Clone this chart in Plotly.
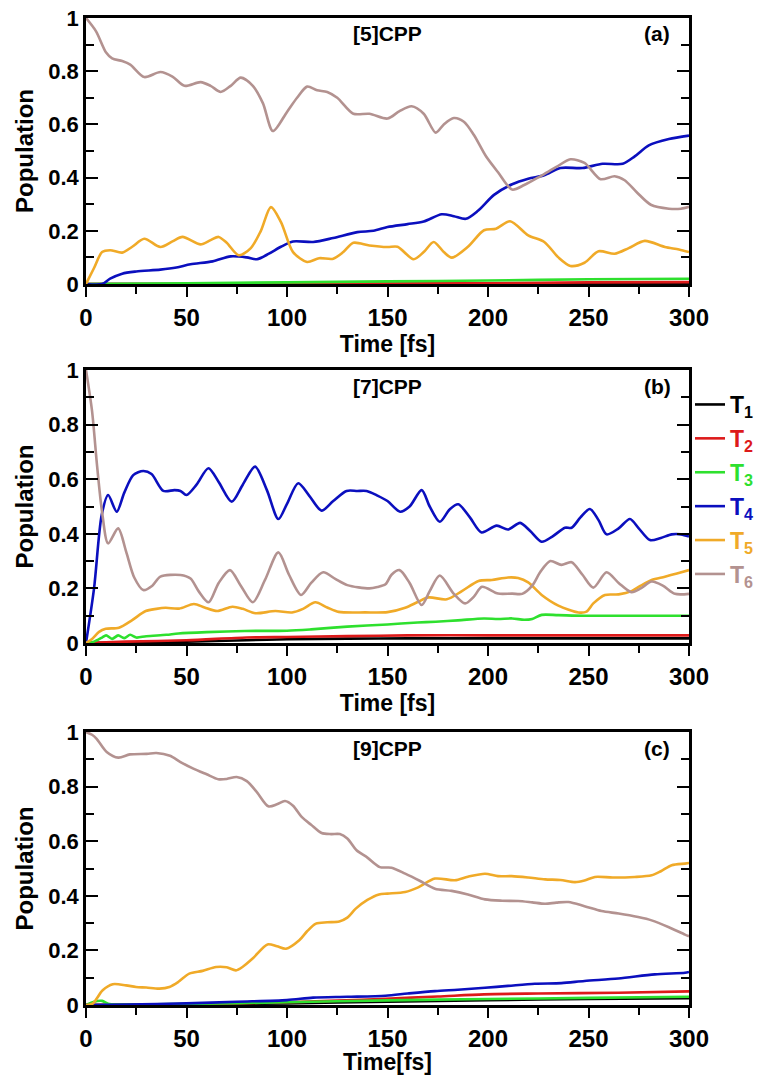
import plotly.graph_objects as go

# ---------------- data ----------------
# Panel (a) [5]CPP
t6a = [0, 5, 10, 13, 18, 22, 29, 37, 43, 49, 57, 62, 67, 72, 77, 83, 88, 93, 100, 105, 110, 115, 120, 125,
       133, 141, 150, 156, 162, 168, 174, 178, 183, 188, 193, 199, 205, 212, 218, 226, 234, 241, 248, 256,
       263, 268, 274, 281, 290, 296, 300]
T6a = [1.0, 0.95, 0.87, 0.848, 0.838, 0.825, 0.778, 0.797, 0.78, 0.745, 0.759, 0.745, 0.722, 0.745, 0.776,
       0.745, 0.68, 0.575, 0.647, 0.70, 0.742, 0.728, 0.722, 0.70, 0.64, 0.64, 0.622, 0.65, 0.668, 0.64, 0.569,
       0.60, 0.624, 0.61, 0.56, 0.48, 0.42, 0.355, 0.372, 0.405, 0.44, 0.469, 0.455, 0.394, 0.405, 0.39, 0.345,
       0.298, 0.283, 0.283, 0.29]
t5a = [0, 4, 8, 12, 18, 23, 29, 37, 43, 48, 57, 62, 66, 70, 76, 82, 87, 92, 97, 103, 110, 116, 123, 128,
       133, 141, 150, 155, 163, 168, 173, 178, 182, 190, 198, 204, 211, 220, 228, 235, 241, 248, 255, 263,
       270, 278, 288, 295, 300]
T5a = [0, 0.06, 0.12, 0.127, 0.118, 0.14, 0.17, 0.139, 0.16, 0.177, 0.149, 0.165, 0.177, 0.155, 0.108,
       0.135, 0.2, 0.289, 0.233, 0.12, 0.083, 0.097, 0.095, 0.12, 0.155, 0.145, 0.139, 0.14, 0.093, 0.12,
       0.158, 0.12, 0.099, 0.14, 0.202, 0.208, 0.236, 0.183, 0.158, 0.10, 0.068, 0.08, 0.123, 0.114, 0.135,
       0.162, 0.139, 0.13, 0.12]
t4a = [0, 8, 12, 18, 25, 37, 45, 52, 63, 72, 80, 85, 91, 97, 103, 113, 123, 135, 143, 150, 160, 168, 177,
       183, 189, 195, 203, 212, 220, 228, 236, 247, 257, 267, 273, 280, 290, 300]
T4a = [0, 0.0, 0.02, 0.039, 0.047, 0.054, 0.062, 0.074, 0.085, 0.104, 0.10, 0.093, 0.114, 0.14, 0.16,
       0.158, 0.173, 0.195, 0.2, 0.214, 0.225, 0.235, 0.262, 0.255, 0.245, 0.275, 0.335, 0.375, 0.396,
       0.409, 0.436, 0.436, 0.452, 0.452, 0.48, 0.521, 0.545, 0.558]
tsa = [0, 50, 100, 150, 200, 250, 300]
T3a = [0, 0.003, 0.006, 0.01, 0.013, 0.018, 0.02]
T2a = [0, 0, 0.001, 0.002, 0.003, 0.006, 0.007]
T1a = [0, 0, 0, 0.001, 0.001, 0.002, 0.002]

# Panel (b) [7]CPP
t6b = [0, 3, 5.5, 8, 11, 16, 20, 24, 28.5, 33, 37, 47, 52, 56, 61, 66, 71.6, 77, 83, 89, 95.7, 101, 107,
       112, 118, 124, 130, 141, 145, 149, 152, 156, 161, 167, 171, 176, 183, 188.6, 193, 197, 205, 212,
       217, 222, 226, 231, 236.5, 241.6, 247, 252.4, 259, 265, 271.4, 276, 281.4, 287, 293, 300]
T6b = [1.0, 0.85, 0.65, 0.48, 0.365, 0.42, 0.334, 0.24, 0.194, 0.21, 0.243, 0.249, 0.236, 0.19, 0.149,
       0.22, 0.267, 0.21, 0.149, 0.23, 0.332, 0.25, 0.176, 0.22, 0.259, 0.235, 0.212, 0.2, 0.205, 0.215,
       0.25, 0.267, 0.22, 0.139, 0.19, 0.247, 0.18, 0.145, 0.17, 0.206, 0.181, 0.181, 0.18, 0.21, 0.26,
       0.30, 0.286, 0.296, 0.25, 0.203, 0.259, 0.22, 0.186, 0.20, 0.225, 0.21, 0.18, 0.18]
t4b = [0, 4, 7.8, 11, 15.3, 19, 23.5, 28.5, 32.6, 38.5, 44, 47, 50, 55, 60.9, 66, 72.5, 78, 84.1, 90,
       95.7, 100, 105.6, 111, 117.2, 123, 129.6, 135, 139.6, 145, 150, 156.3, 161, 167, 171, 176, 181,
       185.2, 191, 196.8, 204.3, 210, 216, 221, 226.7, 232, 238.3, 241.6, 246, 250.7, 255, 259, 265, 270.6,
       275, 280.6, 286, 291.4, 296, 300]
T4b = [0, 0.2, 0.469, 0.542, 0.481, 0.55, 0.615, 0.63, 0.619, 0.557, 0.56, 0.557, 0.542, 0.58, 0.64,
       0.59, 0.518, 0.58, 0.646, 0.56, 0.454, 0.51, 0.585, 0.54, 0.485, 0.52, 0.557, 0.557, 0.557, 0.54,
       0.52, 0.481, 0.50, 0.56, 0.50, 0.444, 0.49, 0.508, 0.46, 0.405, 0.43, 0.416, 0.44, 0.41, 0.371,
       0.39, 0.422, 0.422, 0.46, 0.491, 0.45, 0.398, 0.42, 0.454, 0.42, 0.377, 0.385, 0.398, 0.398, 0.39]
t5b = [0, 3, 6.5, 9.8, 16.4, 23, 29.7, 35, 39.6, 46.3, 53.7, 59, 65.3, 72.8, 78, 84.3, 94.2, 102.5, 108,
       114.1, 120, 125.7, 139, 150, 158.8, 165, 170.4, 179.5, 187, 195.3, 201.9, 210, 215, 220, 226.7,
       235, 245, 249, 252.4, 258.2, 265, 271.4, 276, 281.4, 288, 294, 300]
T5b = [0, 0.015, 0.041, 0.052, 0.056, 0.084, 0.117, 0.125, 0.129, 0.126, 0.143, 0.13, 0.117, 0.133,
       0.125, 0.109, 0.117, 0.112, 0.125, 0.149, 0.13, 0.114, 0.112, 0.113, 0.129, 0.15, 0.167, 0.16,
       0.19, 0.227, 0.231, 0.24, 0.238, 0.222, 0.176, 0.137, 0.112, 0.115, 0.145, 0.176, 0.178, 0.19,
       0.21, 0.231, 0.243, 0.255, 0.267]
t3b = [0, 4, 8, 10, 13, 16, 19, 22, 25, 30, 40, 46, 60, 79, 100, 112, 130, 150, 165, 174, 185, 198, 205,
       212, 218, 222, 226.7, 235, 248, 270, 300]
T3b = [0, 0.005, 0.02, 0.028, 0.015, 0.028, 0.018, 0.03, 0.02, 0.025, 0.03, 0.035, 0.04, 0.044, 0.045,
       0.05, 0.06, 0.068, 0.075, 0.078, 0.083, 0.09, 0.088, 0.09, 0.085, 0.088, 0.103, 0.102, 0.1, 0.1, 0.1]
tsb = [0, 20, 50, 80, 100, 130, 160, 200, 250, 300]
T2b = [0, 0.005, 0.01, 0.02, 0.022, 0.025, 0.028, 0.028, 0.028, 0.028]
T1b = [0, 0.002, 0.005, 0.01, 0.014, 0.016, 0.017, 0.017, 0.017, 0.017]

# Panel (c) [9]CPP
t6c = [0, 3, 5.3, 10.3, 16.1, 21.8, 30.2, 35, 41.8, 47, 53.4, 60, 65.8, 70, 75, 80, 85, 90.7, 95, 99,
       103, 107.3, 112, 117.2, 122, 126.3, 130, 134.6, 140, 146.2, 152, 158.8, 166, 173.6, 181.9, 190,
       198.5, 207, 215, 222, 228.4, 234, 240, 248, 256.5, 265, 274.7, 281.4, 290, 298, 300]
T6c = [1.0, 0.99, 0.975, 0.927, 0.906, 0.918, 0.92, 0.923, 0.913, 0.89, 0.866, 0.845, 0.827, 0.828,
       0.835, 0.82, 0.78, 0.728, 0.735, 0.747, 0.73, 0.689, 0.66, 0.63, 0.626, 0.626, 0.61, 0.567, 0.54,
       0.505, 0.503, 0.481, 0.455, 0.426, 0.418, 0.405, 0.387, 0.382, 0.381, 0.376, 0.371, 0.375, 0.377,
       0.362, 0.344, 0.335, 0.322, 0.31, 0.285, 0.258, 0.252]
t5c = [0, 3.3, 8.3, 13.3, 19.9, 24.9, 30, 36.5, 41.5, 46, 51.4, 58, 64.7, 70, 74.6, 78, 82.9, 90.3, 95,
       99.5, 106.1, 110, 114.4, 120, 126, 130, 134.2, 140, 145.8, 150, 158.8, 165, 173.6, 183.5, 190,
       198.5, 205, 211.8, 220, 228.4, 236, 243.3, 248, 253.2, 262, 273, 281.4, 286, 291.4, 298, 300]
T5c = [0, 0.005, 0.054, 0.076, 0.072, 0.066, 0.064, 0.06, 0.066, 0.085, 0.115, 0.125, 0.139, 0.138,
       0.127, 0.14, 0.17, 0.222, 0.215, 0.206, 0.237, 0.27, 0.298, 0.303, 0.306, 0.32, 0.353, 0.385, 0.405,
       0.408, 0.414, 0.43, 0.463, 0.457, 0.47, 0.481, 0.472, 0.472, 0.467, 0.46, 0.458, 0.45, 0.456,
       0.469, 0.467, 0.469, 0.475, 0.49, 0.512, 0.518, 0.52]
t4c = [0, 20, 50, 75, 100, 113, 130, 149, 160, 173.6, 185, 198.5, 210, 223.3, 236.5, 248, 264.8, 283, 298, 300]
T4c = [0, 0.002, 0.006, 0.012, 0.018, 0.027, 0.03, 0.034, 0.042, 0.051, 0.056, 0.063, 0.07, 0.078, 0.08,
       0.088, 0.097, 0.112, 0.118, 0.121]
t2c = [0, 50, 100, 125, 149, 175, 198, 225, 265, 300]
T2c = [0, 0.003, 0.01, 0.016, 0.023, 0.031, 0.039, 0.042, 0.045, 0.05]
t3c = [0, 4, 8, 11, 15, 50, 100, 150, 200, 250, 300]
T3c = [0, 0.012, 0.015, 0.005, 0.002, 0.004, 0.01, 0.017, 0.022, 0.026, 0.03]
t1c = [0, 50, 100, 150, 200, 250, 300]
T1c = [0, 0.002, 0.006, 0.012, 0.018, 0.022, 0.025]

state_names = ["T1", "T2", "T3", "T4", "T5", "T6"]
state_colors = ["#000000", "#DD1A1A", "#2EE02E", "#0B0FBE", "#F0AA28", "#B39290"]
panel_titles = ["[5]CPP", "[7]CPP", "[9]CPP"]
panel_tags = ["(a)", "(b)", "(c)"]
xtitles = ["Time [fs]", "Time [fs]", "Time[fs]"]
xticks = [0, 50, 100, 150, 200, 250, 300]
yticks = [0, 0.2, 0.4, 0.6, 0.8, 1]
yticktext = ["0", "0.2", "0.4", "0.6", "0.8", "1"]

panels = [
    [(tsa, T1a), (tsa, T2a), (tsa, T3a), (t4a, T4a), (t5a, T5a), (t6a, T6a)],
    [(tsb, T1b), (tsb, T2b), (t3b, T3b), (t4b, T4b), (t5b, T5b), (t6b, T6b)],
    [(t1c, T1c), (t2c, T2c), (t3c, T3c), (t4c, T4c), (t5c, T5c), (t6c, T6c)],
]

FONT = "Liberation Sans, Arial, Helvetica, sans-serif"

fig = go.Figure()
for p, series in enumerate(panels):
    xa = "x" if p == 0 else f"x{p+1}"
    ya = "y" if p == 0 else f"y{p+1}"
    for i, (tt, yy) in enumerate(series):
        lbl = state_names[i]
        name = f"<span style='color:{state_colors[i]}'>T<sub>{lbl[1:]}</sub></span>"
        fig.add_trace(go.Scatter(
            x=tt, y=yy, mode="lines", name=name,
            line=dict(color=state_colors[i], width=2.6, shape="spline", smoothing=0.8),
            xaxis=xa, yaxis=ya, showlegend=(p == 1), legendgroup=f"g{i}",
        ))

# plot box positions (pixels of a 769x1075 canvas)
W, H = 769, 1075
x0px, x1px = 86, 689
boxes = [(18, 284), (370, 643), (732, 1005)]

layout = dict(
    width=W, height=H, margin=dict(l=0, r=0, t=0, b=0),
    paper_bgcolor="white", plot_bgcolor="white",
    font=dict(family=FONT, color="black", size=20, weight="bold"),
    legend=dict(x=690 / W, y=1 - 383 / H, xanchor="left", yanchor="top",
                font=dict(size=23, family=FONT, weight="bold"),
                bgcolor="rgba(0,0,0,0)", traceorder="grouped", tracegroupgap=1,
                itemwidth=30),
    annotations=[],
)
for p, (top, bot) in enumerate(boxes):
    sfx = "" if p == 0 else str(p + 1)
    layout["xaxis" + sfx] = dict(
        domain=[x0px / W, x1px / W], anchor="y" + sfx, range=[0, 300],
        tickvals=xticks, ticks="outside", ticklen=10, tickwidth=2.2, tickcolor="black",
        minor=dict(dtick=25, tick0=0, ticks="outside", ticklen=7, tickwidth=2.2, tickcolor="black"),
        showline=True, linewidth=2.6, linecolor="black", mirror=True,
        showgrid=False, zeroline=False, automargin=False,
        tickfont=dict(size=24, family=FONT, weight="bold"),
        title=dict(text=xtitles[p], font=dict(size=23, family=FONT, weight="bold"), standoff=2),
    )
    layout["yaxis" + sfx] = dict(
        domain=[1 - bot / H, 1 - top / H], anchor="x" + sfx, range=[0, 1],
        tickvals=yticks, ticktext=yticktext, ticks="inside", ticklen=12, tickwidth=2.2,
        tickcolor="black",
        minor=dict(dtick=0.1, tick0=0, ticks="inside", ticklen=8, tickwidth=2.2, tickcolor="black"),
        showline=True, linewidth=2.6, linecolor="black", mirror="ticks",
        showgrid=False, zeroline=False, automargin=False,
        tickfont=dict(size=22, family=FONT, weight="bold"),
        title=dict(text="Population", font=dict(size=24, family=FONT, weight="bold"), standoff=8),
    )
    layout["annotations"].append(dict(
        text=panel_titles[p], x=0.5, y=0.94, xref=f"x{sfx} domain", yref=f"y{sfx} domain",
        showarrow=False, font=dict(size=21, family=FONT, weight="bold"), xanchor="center", yanchor="middle"))
    layout["annotations"].append(dict(
        text=panel_tags[p], x=0.947, y=0.94, xref=f"x{sfx} domain", yref=f"y{sfx} domain",
        showarrow=False, font=dict(size=21, family=FONT, weight="bold"), xanchor="center", yanchor="middle"))

fig.update_layout(**layout)
fig.write_html("out.html")
